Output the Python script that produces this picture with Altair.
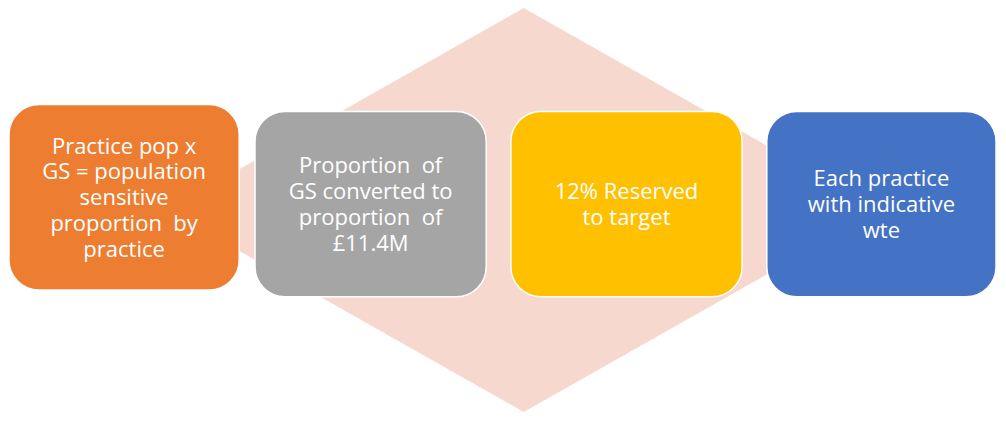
import altair as alt
import pandas as pd

# ---- content ----
box_labels = [
    ["Practice pop x", "GS = population", "sensitive", "proportion\u00a0 by", "practice"],
    ["Proportion\u00a0 of", "GS converted to", "proportion\u00a0 of", "£11.4M"],
    ["12% Reserved", "to target"],
    ["Each practice", "with indicative", "wte"],
]
box_colors = ["#ED7D31", "#A5A5A5", "#FFC000", "#4472C4"]
diamond_color = "#F7D8CE"

# ---- layout (reference pixel space) ----
box_x0 = [4, 253, 512, 771]
box_x1 = [237, 487, 746, 1003]
box_y0 = [100, 107, 107, 107]
box_y1 = [290, 297, 297, 297]
diamond_x = [164, 525, 886]
diamond_top = [208, 1, 208]
diamond_bot = [208, 415, 208]
line_gap = 26.5

boxes = pd.DataFrame({
    "x0": box_x0, "x1": box_x1, "y0": box_y0, "y1": box_y1,
    "color": box_colors, "id": list(range(4)),
})

rows = []
for i, lines in enumerate(box_labels):
    cx = (box_x0[i] + box_x1[i]) / 2
    cy = (box_y0[i] + box_y1[i]) / 2
    n = len(lines)
    for j, t in enumerate(lines):
        rows.append({"x": cx, "y": cy + (j - (n - 1) / 2) * line_gap + 1, "text": t})
texts = pd.DataFrame(rows)

diamond = pd.DataFrame({"x": diamond_x, "y": diamond_top, "y2": diamond_bot})

xs = alt.Scale(domain=[3, 1005], nice=False, zero=False)
ys = alt.Scale(domain=[1, 416], nice=False, zero=False, reverse=True)

dia = alt.Chart(diamond).mark_area(color=diamond_color, opacity=1).encode(
    x=alt.X("x:Q", scale=xs, axis=None),
    y=alt.Y("y:Q", scale=ys, axis=None),
    y2="y2:Q",
)

rects = alt.Chart(boxes).mark_rect(cornerRadius=30, stroke="white", strokeWidth=1.5).encode(
    x=alt.X("x0:Q", scale=xs, axis=None),
    x2="x1:Q",
    y=alt.Y("y0:Q", scale=ys, axis=None),
    y2="y1:Q",
    color=alt.Color("color:N", scale=None),
)

labels = alt.Chart(texts).mark_text(
    color="white", font="Open Sans", fontSize=22, align="center", baseline="middle"
).encode(
    x=alt.X("x:Q", scale=xs, axis=None),
    y=alt.Y("y:Q", scale=ys, axis=None),
    text="text:N",
)

chart = alt.layer(dia, rects, labels).properties(
    width=990, height=405,
    autosize=alt.AutoSizeParams(type="fit", contains="padding"),
    padding=0,
).configure_view(stroke=None)

chart.save("out.html", embed_options={"renderer": "svg", "actions": False})
